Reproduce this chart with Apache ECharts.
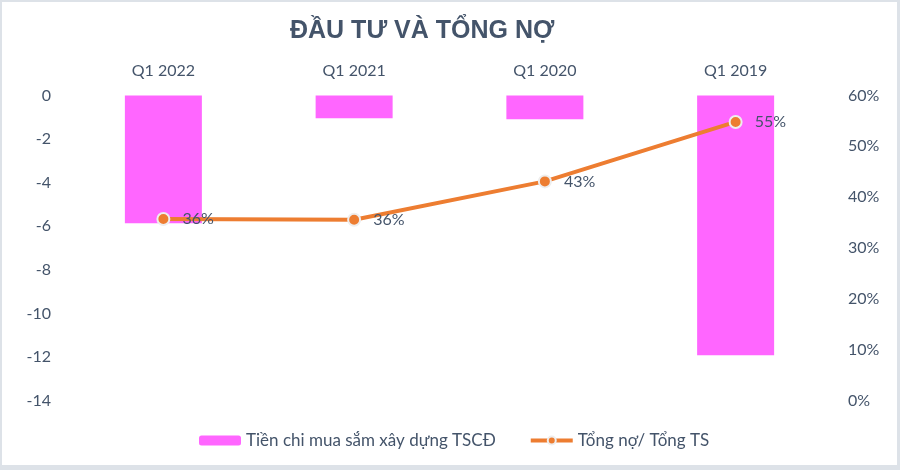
<!DOCTYPE html>
<html>
<head>
<meta charset="utf-8">
<script src="https://cdn.jsdelivr.net/npm/echarts@6/dist/echarts.min.js"></script>
<style>
  html, body { margin: 0; padding: 0; background: #dde2e8; }
  #frame { position: absolute; left: 2px; top: 2px; width: 895px; height: 463px; background: #ffffff; }
  #chart { position: absolute; left: 0; top: 0; width: 900px; height: 470px; }
</style>
</head>
<body>
<div id="frame"></div>
<div id="chart"></div>
<script>
const titleText = 'ĐẦU TƯ VÀ TỔNG NỢ';
const categories = ['Q1 2022', 'Q1 2021', 'Q1 2020', 'Q1 2019'];
const barName = 'Tiền chi mua sắm xây dựng TSCĐ';
const barValues = [-5.86, -1.04, -1.09, -11.92];
const lineName = 'Tổng nợ/ Tổng TS';
const lineValues = [0.357, 0.3555, 0.431, 0.548];

const textColor = '#44546a';
const baseFont = 'Lato';

const chart = echarts.init(document.getElementById('chart'), null, { renderer: 'canvas' });
chart.setOption({
  backgroundColor: 'transparent',
  animation: false,
  title: {
    text: titleText,
    left: 285,
    top: 14,
    textStyle: { fontFamily: 'Liberation Sans', fontWeight: 'bold', fontSize: 25, color: textColor }
  },
  legend: {
    data: [barName, lineName],
    left: 199,
    top: 432,
    padding: 0,
    itemWidth: 42,
    itemHeight: 10,
    itemGap: 33,
    lineStyle: { width: 4 },
    textStyle: { fontFamily: baseFont, fontSize: 17, color: textColor }
  },
  grid: { left: 68, right: 69, top: 95.5, bottom: 69.5, containLabel: false },
  xAxis: {
    type: 'category',
    data: categories,
    position: 'top',
    axisLine: { show: false },
    axisTick: { show: false },
    axisLabel: { fontFamily: baseFont, fontSize: 16, color: textColor, margin: 17 }
  },
  yAxis: [
    {
      type: 'value',
      min: -14, max: 0, interval: 2,
      axisLine: { show: false },
      axisTick: { show: false },
      splitLine: { show: false },
      axisLabel: { fontFamily: baseFont, fontSize: 16, color: textColor, margin: 17 }
    },
    {
      type: 'value',
      min: 0, max: 0.6, interval: 0.1,
      position: 'right',
      axisLine: { show: false },
      axisTick: { show: false },
      splitLine: { show: false },
      axisLabel: {
        fontFamily: baseFont, fontSize: 16, color: textColor, margin: 17,
        formatter: v => Math.round(v * 100) + '%'
      }
    }
  ],
  series: [
    {
      name: barName,
      type: 'bar',
      data: barValues,
      barWidth: 77,
      itemStyle: { color: '#ff66ff' }
    },
    {
      name: lineName,
      type: 'line',
      yAxisIndex: 1,
      data: lineValues,
      symbol: 'circle',
      symbolSize: 12,
      lineStyle: { color: '#ed7d31', width: 4 },
      itemStyle: { color: '#ed7d31', borderColor: '#eeeeee', borderWidth: 2 },
      label: {
        show: true,
        position: 'right',
        distance: 12,
        fontFamily: baseFont, fontSize: 16, color: textColor,
        formatter: p => Math.round(p.value * 100) + '%'
      }
    }
  ]
});
</script>
</body>
</html>
